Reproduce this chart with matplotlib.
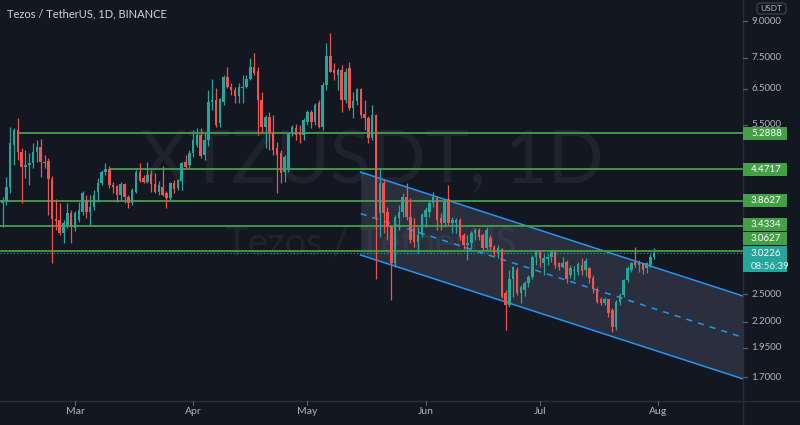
import numpy as np
import pandas as pd
import matplotlib
matplotlib.use('Agg')
import matplotlib.pyplot as plt
import matplotlib.dates as mdates
from matplotlib.patches import Rectangle, FancyBboxPatch
from matplotlib.transforms import IdentityTransform
from matplotlib.lines import Line2D

# daily candles XTZ/USDT (first candle 2021-02-10)
opens = [3.82, 3.84, 4.12, 5.00, 5.37, 4.84, 4.52, 4.56, 4.60, 4.84,
         4.96, 4.62, 4.65, 4.27, 3.55, 3.53, 3.32, 3.45, 3.65, 3.40,
         3.53, 3.66, 3.87, 3.66, 3.75, 4.02, 4.19, 4.41, 4.47, 4.15,
         4.13, 3.97, 4.17, 3.93, 3.82, 4.02, 4.41, 4.29, 4.21, 4.37,
         4.17, 4.02, 4.12, 4.00, 3.91, 4.19, 4.10, 4.23, 4.62, 4.56,
         4.82, 5.00, 5.24, 4.78, 5.12, 6.11, 6.17, 5.54, 6.11, 6.86,
         6.55, 6.46, 6.28, 6.52, 6.55, 6.80, 7.19, 7.06, 6.17, 5.44,
         5.70, 5.32, 4.93, 4.82, 4.41, 4.45, 5.27, 5.41, 5.29, 5.24,
         5.56, 5.83, 5.56, 6.08, 5.44, 6.61, 7.57, 7.09, 6.93, 7.09,
         6.17, 7.16, 5.94, 6.14, 6.49, 5.78, 5.67, 5.17, 5.75, 3.65,
         4.19, 3.66, 3.42, 2.89, 3.57, 3.66, 3.93, 3.58, 3.40, 3.19,
         3.29, 3.58, 3.66, 3.82, 3.91, 3.56, 3.48, 3.89, 3.48, 3.48,
         3.53, 3.29, 3.14, 3.17, 3.32, 3.37, 3.29, 3.10, 3.25, 3.12,
         3.03, 3.09, 2.51, 2.38, 2.69, 2.80, 2.52, 2.55, 2.63, 2.71,
         2.97, 3.04, 2.89, 2.94, 2.97, 3.04, 2.89, 2.84, 2.90, 2.73,
         2.78, 2.77, 2.87, 2.80, 2.82, 2.70, 2.56, 2.44, 2.40, 2.44,
         2.32, 2.15, 2.41, 2.49, 2.67, 2.80, 2.90, 2.86, 2.89, 2.82,
         2.86, 2.97]
highs = [3.93, 4.31, 5.44, 5.41, 5.67, 4.93, 4.89, 4.82, 5.05, 5.12,
         5.14, 4.78, 4.71, 4.33, 3.89, 3.82, 3.53, 3.82, 3.70, 3.68,
         3.84, 4.04, 3.97, 3.97, 4.06, 4.29, 4.45, 4.60, 4.54, 4.21,
         4.15, 4.21, 4.19, 3.97, 4.10, 4.45, 4.60, 4.35, 4.62, 4.45,
         4.39, 4.23, 4.54, 4.04, 4.21, 4.25, 4.27, 4.62, 4.78, 4.89,
         5.37, 5.41, 5.41, 5.32, 6.46, 6.80, 6.52, 6.23, 6.93, 7.19,
         6.68, 6.55, 6.68, 6.93, 6.93, 7.50, 7.67, 7.19, 6.40, 5.75,
         5.83, 5.75, 5.07, 4.89, 4.78, 5.32, 5.49, 5.52, 5.49, 5.67,
         5.89, 5.89, 6.08, 6.17, 6.71, 8.04, 8.42, 7.33, 7.16, 7.26,
         7.16, 7.36, 6.40, 6.52, 6.52, 6.17, 5.73, 6.03, 5.78, 4.49,
         4.25, 3.75, 3.45, 3.61, 3.79, 4.00, 4.19, 3.91, 3.56, 3.42,
         3.65, 3.75, 3.87, 4.02, 3.93, 3.65, 3.87, 4.15, 3.58, 3.56,
         3.56, 3.32, 3.29, 3.35, 3.40, 3.40, 3.32, 3.42, 3.29, 3.14,
         3.14, 3.10, 2.55, 2.80, 2.85, 2.84, 2.61, 2.66, 2.73, 3.00,
         3.07, 3.07, 3.02, 3.02, 3.07, 3.07, 2.90, 2.97, 2.93, 2.86,
         2.85, 2.91, 2.96, 2.96, 2.84, 2.73, 2.59, 2.47, 2.47, 2.45,
         2.34, 2.43, 2.51, 2.69, 2.85, 2.91, 3.11, 2.93, 2.91, 2.91,
         3.01, 3.10]
lows = [3.42, 3.79, 4.00, 4.56, 4.67, 3.82, 4.29, 4.15, 4.50, 4.62,
        4.31, 4.50, 3.61, 2.89, 3.37, 3.29, 3.17, 3.40, 3.17, 3.35,
        3.50, 3.61, 3.56, 3.45, 3.70, 3.84, 4.15, 4.35, 4.10, 4.00,
        3.84, 3.87, 3.82, 3.73, 3.79, 4.00, 4.21, 4.19, 4.19, 4.02,
        4.00, 3.97, 3.95, 3.73, 3.87, 4.00, 4.06, 4.06, 4.50, 4.50,
        4.74, 4.95, 4.71, 4.67, 4.98, 5.89, 5.45, 5.45, 6.03, 6.52,
        6.31, 6.08, 6.08, 6.08, 6.52, 6.77, 6.93, 5.24, 5.32, 4.93,
        4.89, 4.78, 4.00, 4.19, 4.21, 4.41, 5.22, 5.12, 5.05, 5.12,
        5.49, 5.41, 5.49, 5.41, 5.37, 6.46, 7.03, 6.77, 6.46, 5.83,
        6.08, 5.89, 5.67, 6.03, 5.67, 5.37, 5.05, 5.12, 2.69, 3.26,
        3.32, 3.22, 2.43, 2.84, 3.37, 3.58, 3.53, 3.17, 3.11, 3.03,
        3.26, 3.42, 3.58, 3.75, 3.37, 3.37, 3.42, 3.45, 3.32, 3.32,
        3.22, 3.09, 2.93, 3.09, 3.22, 3.22, 3.07, 3.07, 3.07, 2.99,
        2.96, 2.46, 2.12, 2.36, 2.47, 2.49, 2.40, 2.48, 2.59, 2.69,
        2.86, 2.84, 2.73, 2.86, 2.90, 2.82, 2.80, 2.82, 2.63, 2.70,
        2.67, 2.73, 2.73, 2.72, 2.63, 2.52, 2.40, 2.38, 2.38, 2.25,
        2.10, 2.12, 2.38, 2.47, 2.65, 2.77, 2.84, 2.77, 2.75, 2.76,
        2.84, 2.95]
closes = [3.87, 4.12, 5.05, 5.37, 4.84, 4.52, 4.56, 4.60, 4.84, 4.96,
          4.62, 4.60, 4.27, 3.55, 3.51, 3.32, 3.48, 3.65, 3.43, 3.65,
          3.70, 4.00, 3.66, 3.75, 3.97, 4.19, 4.41, 4.47, 4.15, 4.12,
          3.97, 4.17, 3.93, 3.82, 4.06, 4.41, 4.23, 4.21, 4.35, 4.17,
          4.02, 4.15, 3.97, 3.91, 4.19, 4.08, 4.25, 4.60, 4.52, 4.82,
          5.12, 5.24, 4.75, 5.12, 6.11, 6.17, 5.49, 6.20, 6.86, 6.55,
          6.46, 6.28, 6.55, 6.55, 6.80, 7.19, 7.00, 6.17, 5.44, 5.70,
          5.29, 4.89, 4.78, 4.39, 4.73, 5.27, 5.44, 5.24, 5.24, 5.62,
          5.83, 5.56, 6.03, 5.44, 6.61, 7.57, 7.03, 7.00, 7.09, 6.17,
          7.03, 5.94, 6.14, 6.49, 5.75, 5.67, 5.17, 5.75, 3.58, 4.19,
          3.65, 3.42, 2.89, 3.58, 3.66, 3.93, 3.58, 3.22, 3.19, 3.29,
          3.61, 3.70, 3.82, 3.93, 3.53, 3.48, 3.84, 3.48, 3.53, 3.53,
          3.26, 3.14, 3.17, 3.32, 3.37, 3.26, 3.10, 3.37, 3.12, 3.03,
          3.10, 2.47, 2.38, 2.69, 2.84, 2.52, 2.58, 2.63, 2.71, 2.97,
          3.04, 2.96, 2.96, 2.97, 3.04, 2.86, 2.84, 2.89, 2.69, 2.82,
          2.80, 2.88, 2.78, 2.92, 2.70, 2.56, 2.41, 2.40, 2.44, 2.29,
          2.15, 2.41, 2.49, 2.67, 2.82, 2.89, 2.86, 2.90, 2.80, 2.89,
          2.97, 3.0226]
dates = pd.date_range('2021-02-10', periods=len(closes), freq='D')

# horizontal support / resistance levels and where they start
level_prices = [5.2888, 4.4717, 3.8627, 3.4334, 3.0627]
level_starts = ['2021-02-14', '2021-03-10', '2021-02-01', '2021-02-01', '2021-02-01']

# descending parallel channel (upper / lower edge at both anchor dates)
channel_dates = ['2021-05-15', '2021-08-24']
channel_upper = [4.41, 2.47]
channel_lower = [3.00, 1.68]

ytick_values = [9.0, 7.5, 6.5, 5.5, 2.5, 2.2, 1.95, 1.7]
month_labels = ['Mar', 'Apr', 'May', 'Jun', 'Jul', 'Aug']
month_dates = ['2021-03-01', '2021-04-01', '2021-05-01', '2021-06-01', '2021-07-01', '2021-08-01']

last_price = closes[-1]
countdown = '08:56:39'

W, H = 800, 425
BG = '#131722'
UP, DOWN = '#26a69a', '#ef5350'
LEVEL = '#43a047'
AXIS_TXT = '#b2b5be'
SEP = '#2a2e39'

plt.rcParams['font.family'] = ['Lato', 'DejaVu Sans']

fig = plt.figure(figsize=(W / 100, H / 100), dpi=100, facecolor=BG)
ax = fig.add_axes([0, 24 / H, 743 / W, 401 / H], facecolor=BG)
ax.set_yscale('log')
x0 = mdates.date2num(dates[0])
ax.set_xlim(x0 - 0.68, x0 + 194.3)
ax.set_ylim(1.522, 9.82)
for s in ax.spines.values():
    s.set_visible(False)
ax.xaxis.set_major_locator(plt.NullLocator())
ax.xaxis.set_minor_locator(plt.NullLocator())
ax.yaxis.set_major_locator(plt.NullLocator())
ax.yaxis.set_minor_locator(plt.NullLocator())
xmin, xmax = ax.get_xlim()

# watermark
ax.text(0.5, 0.596, 'XTZUSDT, 1D', transform=ax.transAxes, ha='center', va='center',
        fontsize=53, color='#ffffff', alpha=0.055, zorder=0)
ax.text(0.5, 0.392, 'Tezos / TetherUS', transform=ax.transAxes, ha='center', va='center',
        fontsize=27, color='#ffffff', alpha=0.055, zorder=0)

# channel
cx = mdates.date2num(pd.to_datetime(channel_dates))
cu = np.array(channel_upper)
cl = np.array(channel_lower)
cm = np.sqrt(cu * cl)
ax.fill_between(cx, cl, cu, color='#8791b0', alpha=0.2, lw=0, zorder=1)
ax.plot(cx, cu, color='#2196f3', lw=1.1, zorder=2)
ax.plot(cx, cl, color='#2196f3', lw=1.1, zorder=2)
ax.plot(cx, cm, color='#2196f3', lw=1.1, ls=(0, (4, 4)), zorder=2)

# levels
for p, st in zip(level_prices, level_starts):
    ax.hlines(p, mdates.date2num(pd.Timestamp(st)), xmax, color=LEVEL, lw=1.3, zorder=3)
ax.axhline(last_price, color=UP, lw=0.8, ls=(0, (1, 2)), zorder=3)

# candles
o, h, l, c = map(np.array, (opens, highs, lows, closes))
xd = mdates.date2num(dates)
colors = np.where(c >= o, UP, DOWN)
ax.vlines(xd, l, h, colors=colors, lw=0.9, zorder=4)
bottom = np.minimum(o, c)
height = np.maximum(np.abs(c - o), bottom * 0.006)
ax.bar(xd, height, bottom=bottom, width=0.66, color=colors, lw=0, zorder=5)

# separators of the price / time scales
fig.add_artist(Line2D([743, 743], [0, H], transform=IdentityTransform(), color=SEP, lw=1))
fig.add_artist(Line2D([0, W], [H - 401, H - 401], transform=IdentityTransform(), color=SEP, lw=1))


def ypix(price):
    # pixel row counted from the top of the image
    return H - ax.transData.transform((xmin, price))[1]


def xpix(d):
    return ax.transData.transform((mdates.date2num(pd.Timestamp(d)), 1.0))[0]


# price scale ticks
for v in ytick_values:
    yp = max(ypix(v), 21)
    fig.add_artist(Line2D([743, 747], [H - yp, H - yp], transform=IdentityTransform(),
                          color='#5d606b', lw=0.8))
    fig.text(751 / W, (H - yp) / H, f'{v:.4f}', color=AXIS_TXT, fontsize=7, va='center', ha='left')

# time scale
for lab, d in zip(month_labels, month_dates):
    xp = xpix(d)
    fig.add_artist(Line2D([xp, xp], [H - 401, H - 405], transform=IdentityTransform(),
                          color='#5d606b', lw=0.8))
    fig.text(xp / W, (H - 412) / H, lab, color=AXIS_TXT, fontsize=7.5, ha='center', va='center')

# current price label (two lines)
cy = ypix(last_price)
top = cy - 7
fig.add_artist(Rectangle((743, H - (top + 26)), 44, 26, transform=IdentityTransform(),
                         facecolor=UP, edgecolor='none', zorder=5))
fig.text(751 / W, (H - cy) / H, f'{last_price:.4f}', color='white', fontsize=7, va='center', zorder=6)
fig.text(751 / W, (H - cy - 13) / H, countdown, color='#e0f2f1', fontsize=7, va='center', zorder=6)

# level labels, stacked upward when they collide
prev_top = top
for p in sorted(level_prices):
    yc = ypix(p)
    bot = yc + 6.5
    if bot > prev_top - 1:
        bot = prev_top - 1
    yc = bot - 6.5
    fig.add_artist(Rectangle((743, H - bot), 44, 13, transform=IdentityTransform(),
                             facecolor='#43a047', edgecolor='none', zorder=5))
    fig.text(751 / W, (H - yc) / H, f'{p:.4f}', color='white', fontsize=7, va='center', zorder=6)
    prev_top = bot - 13

# currency badge
fig.add_artist(FancyBboxPatch((757, H - 14), 29, 11, boxstyle='round,pad=0,rounding_size=3',
                              transform=IdentityTransform(), facecolor=BG, edgecolor='#434651',
                              lw=0.8, zorder=7))
fig.text(771.5 / W, (H - 8.5) / H, 'USDT', color=AXIS_TXT, fontsize=6, ha='center', va='center', zorder=8)

# title
fig.text(7 / W, (H - 14) / H, 'Tezos / TetherUS, 1D, BINANCE', color='#d1d4dc', fontsize=8,
         va='center', ha='left')

fig.savefig('out.png', dpi=100, facecolor=BG)
